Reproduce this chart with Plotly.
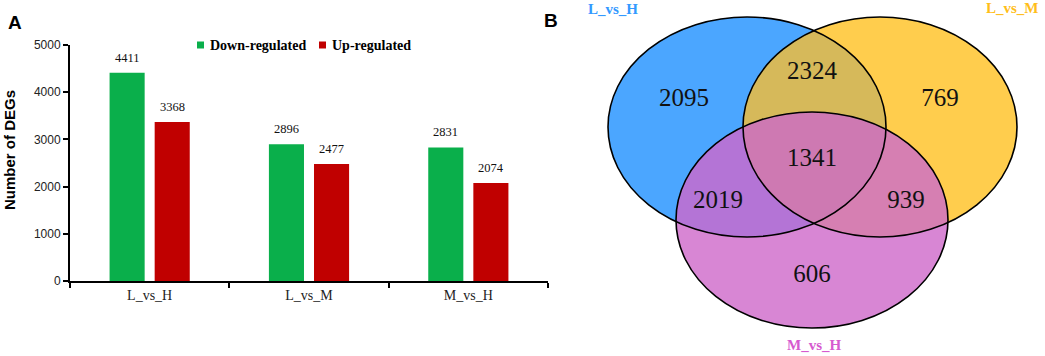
import numpy as np
import plotly.graph_objects as go

# ---------------- data ----------------
categories = ["L_vs_H", "L_vs_M", "M_vs_H"]
down_regulated = [4411, 2896, 2831]
up_regulated = [3368, 2477, 2074]
y_ticks = [0, 1000, 2000, 3000, 4000, 5000]
series_names = ["Down-regulated", "Up-regulated"]

venn_sets = ["L_vs_H", "L_vs_M", "M_vs_H"]
venn_region_names = ["H only", "H&M", "M only", "all", "H&MH", "M&MH", "MH only"]
venn_counts = [2095, 2324, 769, 1341, 2019, 939, 606]

# ---------------- styles / layout constants ----------------
W, H = 1045, 356
SERIF = "Liberation Serif, Times New Roman, serif"
SANS = "Liberation Sans, Arial, sans-serif"
GREEN = "#0AAF4B"
RED = "#C00000"
series_colors = [GREEN, RED]
legend_key_x = [197, 319]     # pixel position of legend keys
legend_key_y = 45

# ellipses in pixel space: (cx, cy, rx, ry)
ellipses = [(747, 127, 139, 110), (880, 127, 137, 110), (812, 220, 136, 108)]
set_label_pos = [(613, 9), (1012, 8), (814, 345)]
set_label_col = ["#3399FF", "#FFBE1A", "#D65ACF"]
region_members = [[0], [0, 1], [1], [0, 1, 2], [0, 2], [1, 2], [2]]
region_colors = ["#4BA6FF", "#D6B95A", "#FFCD4D", "#CE79B2", "#B474D6", "#D67FB2", "#D886D4"]
region_label_pos = [(684, 100), (812, 73), (940, 100), (812, 160), (718, 202), (906, 202), (812, 276)]


def ell_pts(e, n=720):
    cx, cy, rx, ry = e
    t = np.linspace(0, 2 * np.pi, n, endpoint=False)
    return cx + rx * np.cos(t), cy + ry * np.sin(t)


def inside(px, py, e):
    cx, cy, rx, ry = e
    return ((px - cx) / rx) ** 2 + ((py - cy) / ry) ** 2 <= 1 + 1e-9


def region_path(members):
    xs, ys = [], []
    for i in members:
        px, py = ell_pts(ellipses[i])
        mask = np.ones_like(px, dtype=bool)
        for j in members:
            if j != i:
                mask &= inside(px, py, ellipses[j])
        xs.append(px[mask]); ys.append(py[mask])
    xs = np.concatenate(xs); ys = np.concatenate(ys)
    mx, my = xs.mean(), ys.mean()
    order = np.argsort(np.arctan2(ys - my, xs - mx))
    xs, ys = xs[order], ys[order]
    return "M " + " L ".join(f"{x:.2f},{y:.2f}" for x, y in zip(xs, ys)) + " Z"


def ellipse_shape(e, **kw):
    cx, cy, rx, ry = e
    return dict(type="circle", xref="x2", yref="y2", x0=cx - rx, x1=cx + rx,
                y0=cy - ry, y1=cy + ry, layer="below", **kw)


fig = go.Figure()

# ---------------- panel A: bars ----------------
for name, vals, col in zip(series_names, (down_regulated, up_regulated), series_colors):
    fig.add_trace(go.Bar(x=categories, y=vals, name=name,
                         marker=dict(color=col, line=dict(width=0)),
                         xaxis="x", yaxis="y", showlegend=False))

annotations = []
shapes = []
for series, shift in ((down_regulated, -22.5), (up_regulated, 22.5)):
    for c, v in zip(categories, series):
        annotations.append(dict(x=c, y=v, xref="x", yref="y", text=str(v), showarrow=False,
                                xshift=shift, yshift=6, yanchor="bottom",
                                font=dict(family=SERIF, size=12.5, color="#111")))

# legend keys (small squares + bold serif text)
for name, col, kx in zip(series_names, series_colors, legend_key_x):
    shapes.append(dict(type="rect", xref="x2", yref="y2", x0=kx, x1=kx + 7,
                       y0=legend_key_y - 3.5, y1=legend_key_y + 3.5,
                       fillcolor=col, line=dict(width=0), layer="above"))
    annotations.append(dict(x=kx + 11, y=legend_key_y, xref="x2", yref="y2", text=name,
                            showarrow=False, xanchor="left", yanchor="middle",
                            font=dict(family=SERIF, size=14, color="black", weight="bold")))

# y-axis title
annotations.append(dict(x=9, y=150, xref="x2", yref="y2", text="Number of DEGs", textangle=-90,
                        showarrow=False, font=dict(family=SANS, size=15, color="black", weight="bold")))

# ---------------- panel B: venn ----------------
shapes.append(ellipse_shape(ellipses[0], fillcolor=region_colors[0], line=dict(width=0)))
shapes.append(ellipse_shape(ellipses[1], fillcolor=region_colors[2], line=dict(width=0)))
shapes.append(dict(type="path", xref="x2", yref="y2", path=region_path(region_members[1]),
                   fillcolor=region_colors[1], line=dict(width=0), layer="below"))
shapes.append(ellipse_shape(ellipses[2], fillcolor=region_colors[6], line=dict(width=0)))
for k in (4, 5, 3):
    shapes.append(dict(type="path", xref="x2", yref="y2", path=region_path(region_members[k]),
                       fillcolor=region_colors[k], line=dict(width=0), layer="below"))
for e in ellipses:
    shapes.append(ellipse_shape(e, fillcolor="rgba(0,0,0,0)", line=dict(color="black", width=1.6)))

fig.add_trace(go.Scatter(
    x=[p[0] for p in region_label_pos], y=[p[1] for p in region_label_pos],
    text=[str(c) for c in venn_counts], mode="text",
    textfont=dict(family=SERIF, size=25, color="#111"),
    xaxis="x2", yaxis="y2", showlegend=False, hoverinfo="skip"))

for name, (x, y), col in zip(venn_sets, set_label_pos, set_label_col):
    annotations.append(dict(x=x, y=y, xref="x2", yref="y2", text=name, showarrow=False,
                            font=dict(family=SERIF, size=15, color=col, weight="bold")))

annotations.append(dict(x=15, y=22, xref="x2", yref="y2", text="A", showarrow=False,
                        font=dict(family=SANS, size=19, color="black", weight="bold")))
annotations.append(dict(x=551, y=20, xref="x2", yref="y2", text="B", showarrow=False,
                        font=dict(family=SANS, size=19, color="black", weight="bold")))

fig.update_layout(
    template="none",
    width=W, height=H, autosize=False,
    margin=dict(l=0, r=0, t=0, b=0, pad=0, autoexpand=False),
    paper_bgcolor="white", plot_bgcolor="rgba(0,0,0,0)",
    barmode="group", bargap=0.434, bargroupgap=0.222,
    showlegend=False,
    xaxis=dict(domain=[70 / W, 548 / W], anchor="y", type="category", automargin=False,
               showline=True, linecolor="black", linewidth=2,
               ticks="outside", tickson="boundaries", ticklen=5, tickwidth=2, tickcolor="black",
               tickfont=dict(family=SERIF, size=14, color="#222"), showgrid=False, zeroline=False),
    yaxis=dict(domain=[1 - 281 / H, 1 - 45 / H], anchor="x", range=[0, 5000], automargin=False,
               tickvals=y_ticks, showline=True, linecolor="black", linewidth=2,
               ticks="outside", ticklen=5, tickwidth=1.5, tickcolor="black",
               tickfont=dict(family=SANS, size=12, color="#222"), showgrid=False, zeroline=False),
    xaxis2=dict(domain=[0, 1], range=[0, W], anchor="y2", visible=False, fixedrange=True,
                automargin=False),
    yaxis2=dict(domain=[0, 1], range=[H, 0], anchor="x2", visible=False, fixedrange=True,
                automargin=False),
    shapes=shapes,
    annotations=annotations,
)

fig.write_html("out.html",
               config={"displayModeBar": False},
               post_script="document.body.style.margin='0';document.body.style.overflow='hidden';")
